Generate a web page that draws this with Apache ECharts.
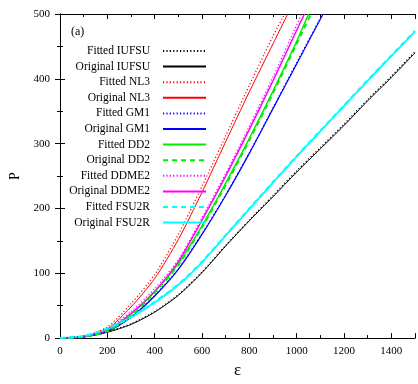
<!DOCTYPE html>
<html>
<head>
<meta charset="utf-8">
<script src="https://cdn.jsdelivr.net/npm/echarts@6/dist/echarts.min.js"></script>
<style>html,body{margin:0;padding:0;background:#fff}#c{width:418px;height:384px}</style>
</head>
<body>
<div id="c"></div>
<script>
// Energy density grid (MeV/fm^3) and pressure values
var epsFull = [0,100,200,300,400,500,600,700,800,900,1000,1100,1200,1300,1400,1500];

var iufsuFitP = [0,2,10,22,41,67,102,143,182,220,258,294,330,368,404,442];
var iufsuOrigP = [0,2,9,21,40,66,101,142,181,218,256,292,328,366,402,440];

var nl3FitEps = [0,100,200,300,400,500,600,700,800,900,950];
var nl3FitP = [0,3,17,53,98,160,234,312,390,466,500];
var nl3OrigEps = [0,100,200,300,400,500,600,700,800,900,962];
var nl3OrigP = [0,2,14,48,92,152,225,303,380,454,500];

var gm1FitEps = [0,100,200,300,400,500,600,700,800,900,1000,1100,1108];
var gm1FitP = [0,2,11,33,66,107,161,221,286,355,425,494,500];
var gm1OrigEps = [0,100,200,300,400,500,600,700,800,900,1000,1100,1112];
var gm1OrigP = [0,2,10,32,65,106,160,220,285,354,423,492,500];

var dd2FitEps = [0,100,200,300,400,500,600,700,800,900,1000,1050];
var dd2FitP = [0,2,12,37,72,115,173,239,308,381,458,500];
var dd2OrigEps = [0,100,200,300,400,500,600,700,800,900,1000,1060];
var dd2OrigP = [0,2,11,35,70,113,171,236,305,378,454,500];

var ddme2FitEps = [0,100,200,300,400,500,600,700,800,900,1000,1020];
var ddme2FitP = [0,3,14,41,76,121,186,254,327,403,483,500];
var ddme2OrigEps = [0,100,200,300,400,500,600,700,800,900,1000,1033];
var ddme2OrigP = [0,2,12,38,72,118,182,250,322,397,475,500];

var fsu2rFitP = [0,3,15,33,56,83,118,159,200,241,281,320,359,398,436,474];
var fsu2rOrigP = [0,3,14,32,55,82,117,158,199,240,280,319,358,397,435,473];

var xTicks = [0,200,400,600,800,1000,1200,1400];
var yTicks = [0,100,200,300,400,500];

function pairs(xs, ys){ return xs.map(function(x,i){ return [x, ys[i]]; }); }

var FONT = 'Liberation Serif';
var DOT = [1.2, 2.2];
var DASH = [5, 4];

function S(name, xs, ys, color, width, type, z){
  return {
    name: name, type: 'line', data: pairs(xs, ys), smooth: 0.25,
    symbol: 'none', xAxisIndex: 0, yAxisIndex: 0, z: z || 2,
    lineStyle: {color: color, width: width, type: type},
    itemStyle: {color: color},
    emphasis: {disabled: true}, animation: false
  };
}

var series = [
  S('Original IUFSU', epsFull, iufsuOrigP, '#000000', 1, 'solid', 2),
  S('Fitted IUFSU', epsFull, iufsuFitP, '#000000', 1.2, DOT, 3),
  S('Original NL3', nl3OrigEps, nl3OrigP, '#ff0000', 1, 'solid', 2),
  S('Fitted NL3', nl3FitEps, nl3FitP, '#ff0000', 1.2, DOT, 3),
  S('Original GM1', gm1OrigEps, gm1OrigP, '#0000ff', 1.2, 'solid', 2),
  S('Fitted GM1', gm1FitEps, gm1FitP, '#0000ff', 1.2, DOT, 3),
  S('Fitted DD2', dd2FitEps, dd2FitP, '#00ee00', 1.5, 'solid', 2),
  S('Original DD2', dd2OrigEps, dd2OrigP, '#00ee00', 2, DASH, 3),
  S('Original DDME2', ddme2OrigEps, ddme2OrigP, '#ff00ff', 1.5, 'solid', 2),
  S('Fitted DDME2', ddme2FitEps, ddme2FitP, '#ff00ff', 1.2, DOT, 3),
  S('Original FSU2R', epsFull, fsu2rOrigP, '#00ffff', 1.8, 'solid', 2),
  S('Fitted FSU2R', epsFull, fsu2rFitP, '#00ffff', 2, DASH, 3)
];

var legendOrder = ['Fitted IUFSU','Original IUFSU','Fitted NL3','Original NL3','Fitted GM1','Original GM1',
  'Fitted DD2','Original DD2','Fitted DDME2','Original DDME2','Fitted FSU2R','Original FSU2R'];

var axisLine = {show: true, lineStyle: {color: '#000', width: 1}};
function xAx(pos, interval, len, showLine, showLabel){
  return {
    type: 'value', position: pos, min: 0, max: 1500, interval: interval,
    axisLine: showLine ? axisLine : {show: false},
    axisTick: {show: true, inside: true, length: len, lineStyle: {color: '#000', width: 1}},
    axisLabel: showLabel ? {show: true, margin: 8, color: '#000', fontFamily: FONT, fontSize: 11,
      formatter: function(v){ return xTicks.indexOf(v) >= 0 ? String(v) : ''; }} : {show: false},
    splitLine: {show: false}
  };
}
function yAx(pos, showLabel){
  return {
    type: 'value', position: pos, min: 0, max: 500, interval: 100,
    axisLine: axisLine,
    axisTick: {show: true, inside: true, length: 5, lineStyle: {color: '#000', width: 1}},
    minorTick: {show: true, splitNumber: 2, length: 3, lineStyle: {color: '#000', width: 1}},
    axisLabel: showLabel ? {show: true, margin: 10, color: '#000', fontFamily: FONT, fontSize: 11,
      formatter: function(v){ return yTicks.indexOf(v) >= 0 ? String(v) : ''; }} : {show: false},
    splitLine: {show: false}
  };
}

var xMain = xAx('bottom', 200, 5, true, true);
xMain.name = 'ε'; xMain.nameLocation = 'middle'; xMain.nameGap = 23;
xMain.nameTextStyle = {color: '#000', fontFamily: FONT, fontSize: 17};
var yMain = yAx('left', true);
yMain.name = 'P'; yMain.nameLocation = 'middle'; yMain.nameGap = 34; yMain.nameRotate = 90;
yMain.nameTextStyle = {color: '#000', fontFamily: FONT, fontSize: 14};

var chart = echarts.init(document.getElementById('c'), null, {renderer: 'canvas'});
chart.setOption({
  animation: false,
  backgroundColor: '#fff',
  title: {text: '(a)', left: 66, top: 21, textStyle: {fontFamily: FONT, fontSize: 12, fontWeight: 'normal', color: '#000'}},
  grid: {left: 60, top: 14, width: 360, height: 334, containLabel: false},
  xAxis: [xMain, xAx('bottom', 100, 3, false, false), xAx('top', 200, 5, true, false), xAx('top', 100, 3, false, false)],
  yAxis: [yMain, yAx('right', false)],
  legend: {
    data: legendOrder, orient: 'vertical', right: 206, top: 40, align: 'right',
    itemWidth: 43, itemHeight: 12, itemGap: 3.6, selectedMode: false,
    itemStyle: {opacity: 0},
    textStyle: {fontFamily: FONT, fontSize: 11.5, color: '#000', padding: [0, 8, 0, 0]}
  },
  series: series
});
</script>
</body>
</html>
